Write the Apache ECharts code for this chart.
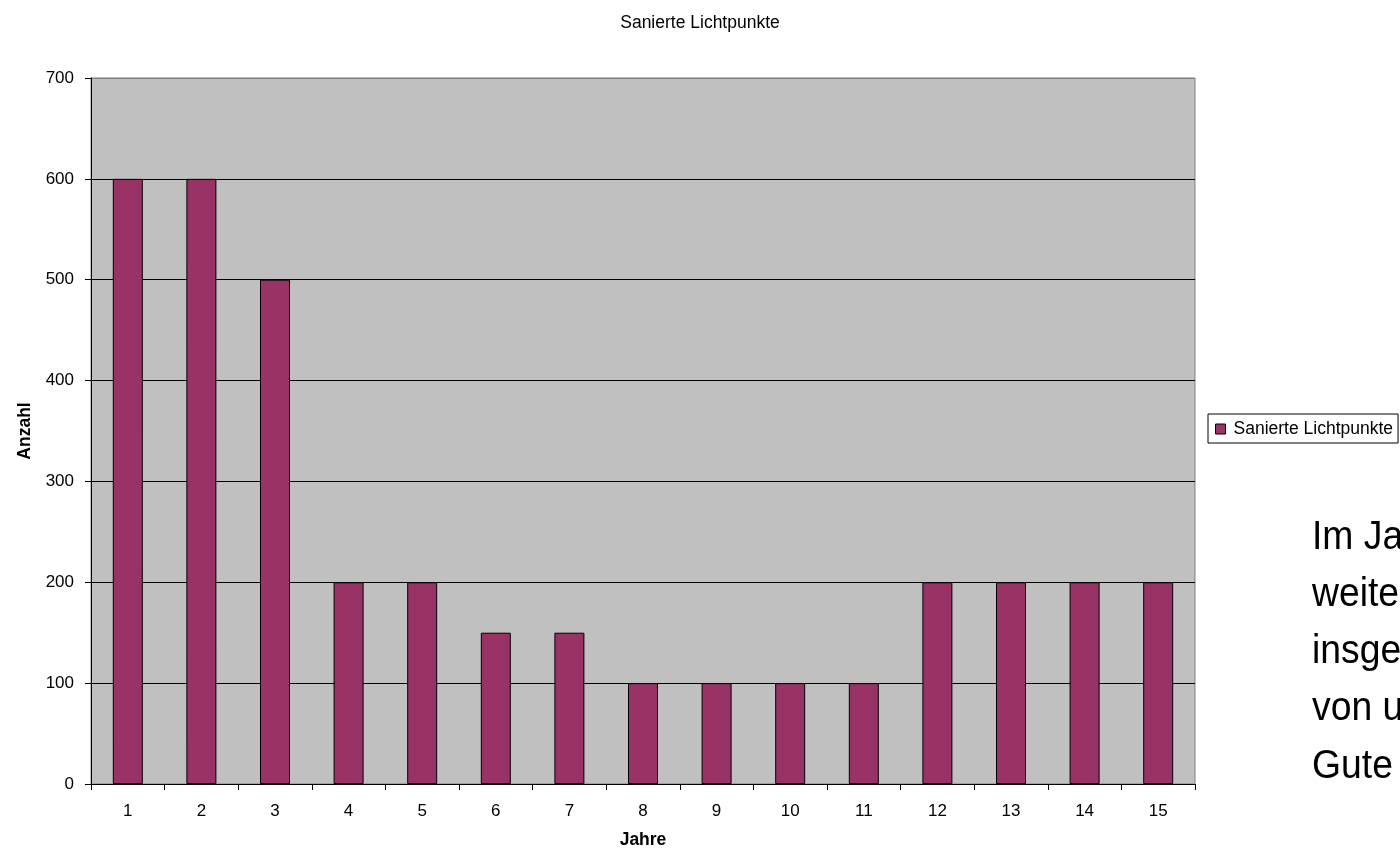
<!DOCTYPE html>
<html>
<head>
<meta charset="utf-8">
<script src="https://cdn.jsdelivr.net/npm/echarts@6/dist/echarts.min.js"></script>
<style>
  html, body { margin: 0; padding: 0; background: #ffffff; }
  #chart { width: 1400px; height: 850px; }
</style>
</head>
<body>
<div id="chart"></div>
<script>
// Years (1..15) and the number of renovated light points per year
const years = ['1', '2', '3', '4', '5', '6', '7', '8', '9', '10', '11', '12', '13', '14', '15'];
const sanierteLichtpunkte = [600, 600, 500, 200, 200, 150, 150, 100, 100, 100, 100, 200, 200, 200, 200];
const yTicks = { min: 0, max: 700, interval: 100 };
const sideNote = ['Im Ja', 'weite', 'insge', 'von u', 'Gute'];

const FONT = '"Liberation Sans", Arial, sans-serif';
const chart = echarts.init(document.getElementById('chart'), null, { renderer: 'canvas' });

// grid lines are black except the topmost one, which is part of the grey frame
const splitColors = [];
for (let v = yTicks.min; v <= yTicks.max; v += yTicks.interval) {
  splitColors.push(v === yTicks.max ? '#808080' : '#000000');
}

chart.setOption({
  backgroundColor: '#ffffff',
  animation: false,
  title: {
    text: 'Sanierte Lichtpunkte',
    left: 'center',
    top: 9,
    textStyle: { fontFamily: FONT, fontSize: 17.5, fontWeight: 'normal', color: '#000' }
  },
  legend: {
    data: ['Sanierte Lichtpunkte'],
    orient: 'vertical',
    left: 1208,
    top: 414,
    padding: [6, 5, 5, 7],
    itemWidth: 10,
    itemHeight: 10,
    itemGap: 0,
    backgroundColor: '#fff',
    borderColor: '#000',
    borderWidth: 1,
    icon: 'rect',
    textStyle: { fontFamily: FONT, fontSize: 17.5, color: '#000', padding: [0, 0, 0, 3] },
    itemStyle: { borderColor: '#000', borderWidth: 1 }
  },
  grid: {
    left: 91,
    right: 205,
    top: 78,
    bottom: 66,
    outerBoundsMode: 'none',
    show: true,
    backgroundColor: '#c0c0c0',
    borderColor: '#808080',
    borderWidth: 1
  },
  xAxis: {
    type: 'category',
    data: years,
    name: 'Jahre',
    nameLocation: 'middle',
    nameGap: 47,
    nameTextStyle: { fontFamily: FONT, fontSize: 17.5, fontWeight: 'bold', color: '#000' },
    axisLine: { lineStyle: { color: '#000', width: 1 } },
    axisTick: { show: true, length: 6, alignWithLabel: false, lineStyle: { color: '#000' } },
    axisLabel: { fontFamily: FONT, fontSize: 17, color: '#000', margin: 19 },
    splitLine: { show: false }
  },
  yAxis: {
    type: 'value',
    min: yTicks.min,
    max: yTicks.max,
    interval: yTicks.interval,
    name: 'Anzahl',
    nameLocation: 'middle',
    nameGap: 57,
    nameTextStyle: { fontFamily: FONT, fontSize: 17.5, fontWeight: 'bold', color: '#000' },
    axisLine: { show: true, lineStyle: { color: '#000', width: 1 } },
    axisTick: { show: true, length: 6, lineStyle: { color: '#000' } },
    axisLabel: { fontFamily: FONT, fontSize: 17, color: '#000', margin: 17 },
    splitLine: { show: true, lineStyle: { color: splitColors, width: 1 } }
  },
  series: [{
    name: 'Sanierte Lichtpunkte',
    type: 'bar',
    data: sanierteLichtpunkte,
    barWidth: 30,
    itemStyle: { color: '#993366', borderColor: '#000', borderWidth: 1 }
  }],
  // large note text running off the right edge of the page
  graphic: sideNote.map((line, i) => ({
    type: 'text',
    x: 1312,
    y: 517 + i * 57.2,
    scaleX: 0.91,
    silent: true,
    style: { x: 0, y: 0, text: line, fontFamily: FONT, fontSize: 41, fill: '#000', verticalAlign: 'top' }
  }))
});
</script>
</body>
</html>
